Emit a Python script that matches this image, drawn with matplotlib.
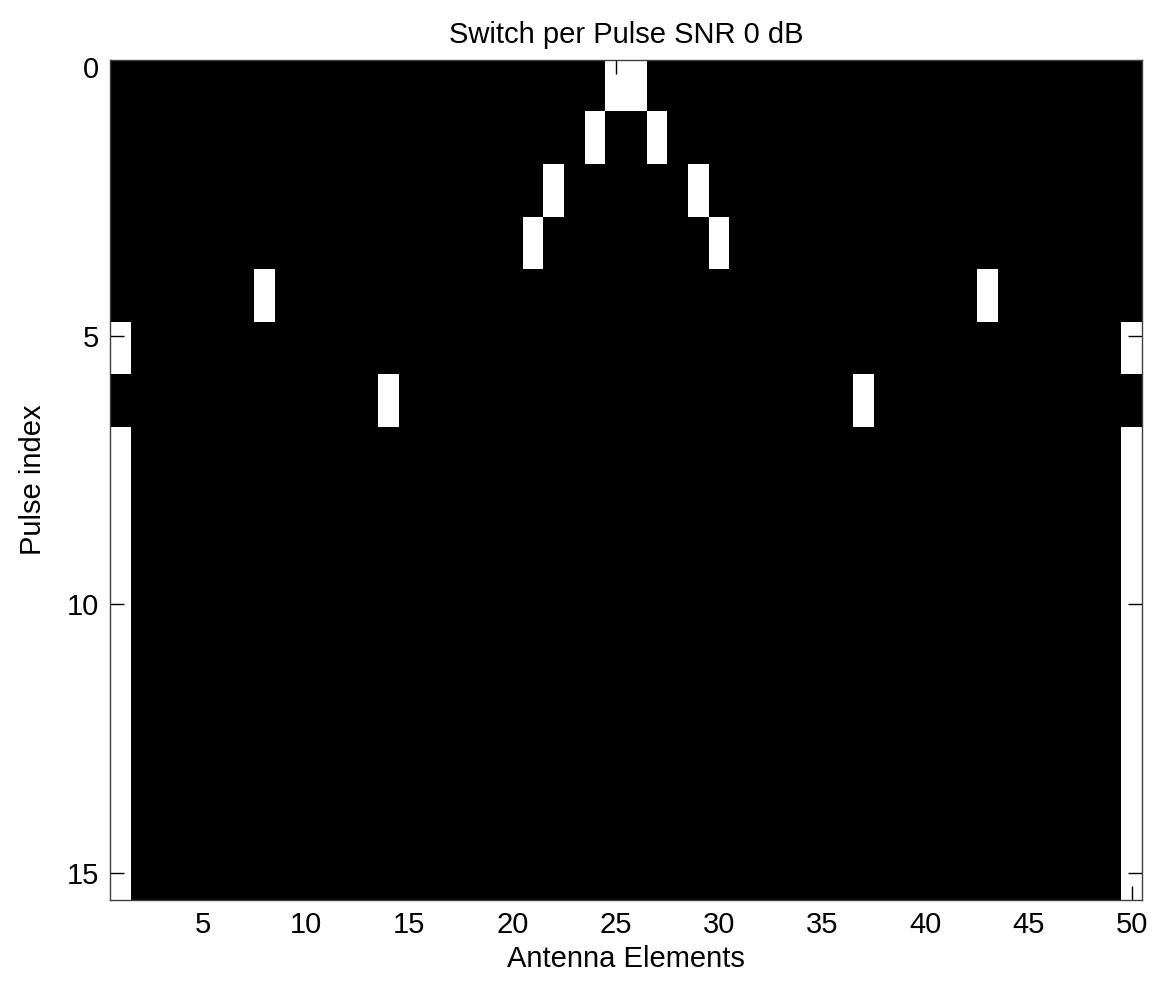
import matplotlib
matplotlib.use("Agg")
import matplotlib.pyplot as plt
import numpy as np

# switch state per pulse (rows) and antenna element (cols), 1 = on
n_pulses = 16
n_elements = 50
# element numbers (1-based) switched on in each pulse
on_elements = [
    [25, 26],
    [24, 27],
    [22, 29],
    [21, 30],
    [8, 43],
    [1, 50],
    [14, 37],
    [1, 50],
    [1, 50],
    [1, 50],
    [1, 50],
    [1, 50],
    [1, 50],
    [1, 50],
    [1, 50],
    [1, 50],
]
x_ticks = [5, 10, 15, 20, 25, 30, 35, 40, 45, 50]
y_ticks = [0, 5, 10, 15]

switch = np.zeros((n_pulses, n_elements))
for row, elems in enumerate(on_elements):
    for e in elems:
        switch[row, e - 1] = 1

plt.rcParams['font.family'] = ['Liberation Sans', 'DejaVu Sans']

fig = plt.figure(figsize=(11.57, 9.83), dpi=100)
ax = fig.add_axes([0.0951, 0.0844, 0.8919, 0.8546])

y_top, y_bot = -0.13, 15.5
ax.imshow(switch, cmap='gray', vmin=0, vmax=1, aspect='auto',
          interpolation='nearest', extent=(0.5, n_elements + 0.5, y_bot, y_top))
ax.set_xlim(0.5, n_elements + 0.5)
ax.set_ylim(y_bot, y_top)

ax.set_xticks(x_ticks)
ax.set_yticks(y_ticks)
ax.tick_params(direction='in', length=10, width=1, labelsize=21,
               top=True, right=True, pad=8)
for s in ax.spines.values():
    s.set_color('#404040')
    s.set_linewidth(1)

ax.set_title('Switch per Pulse SNR 0 dB', fontsize=21, pad=12)
ax.set_xlabel('Antenna Elements', fontsize=21, labelpad=4)
ax.set_ylabel('Pulse index', fontsize=21, labelpad=14)

fig.savefig('out.png', dpi=100)
